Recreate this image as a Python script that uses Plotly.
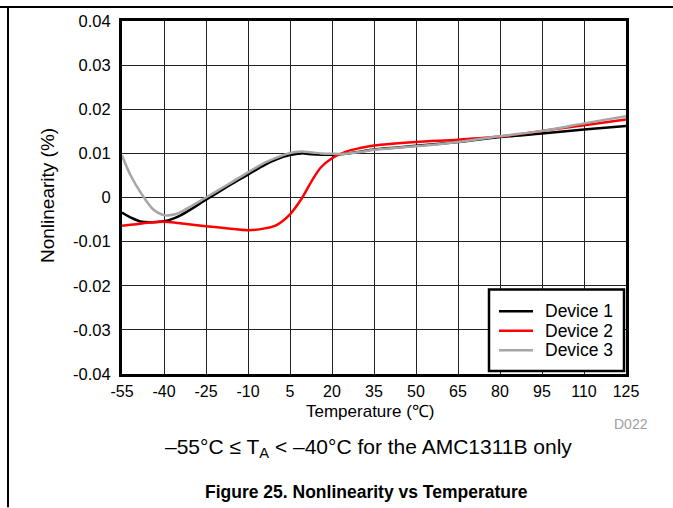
import plotly.graph_objects as go

temps = [-55, -52, -48, -44, -40, -36, -32, -25, -17, -10, -4, 0, 5, 9, 13, 16, 20, 25, 30, 35, 50, 65, 80, 95, 110, 125]
device1 = [-0.0034, -0.0045, -0.0055, -0.0056, -0.0054, -0.0046, -0.0033, -0.0005, 0.0026, 0.0052, 0.0074, 0.0086, 0.0096, 0.0100,
           0.0098, 0.0097, 0.0097, 0.0099, 0.0104, 0.0109, 0.0117, 0.0126, 0.0137, 0.0145, 0.0154, 0.0162]
device2 = [-0.0064, -0.0062, -0.0059, -0.0056, -0.0055, -0.0057, -0.0060, -0.0065, -0.0070, -0.0074, -0.0070, -0.0063, -0.0038, -0.0004,
           0.0040, 0.0068, 0.0089, 0.0104, 0.0112, 0.0118, 0.0126, 0.0131, 0.0138, 0.0151, 0.0164, 0.0177]
device3 = [0.0095, 0.0051, 0.0008, -0.0026, -0.0040, -0.0038, -0.0026, 0.0000, 0.0030, 0.0057, 0.0079, 0.0090, 0.0101, 0.0104,
           0.0102, 0.0100, 0.0099, 0.0099, 0.0103, 0.0108, 0.0116, 0.0126, 0.0139, 0.0151, 0.0168, 0.0184]

x_ticks = [-55, -40, -25, -10, 5, 20, 35, 50, 65, 80, 95, 110, 125]
y_ticks = [-0.04, -0.03, -0.02, -0.01, 0, 0.01, 0.02, 0.03, 0.04]
y_tick_labels = ["-0.04", "-0.03", "-0.02", "-0.01", "0", "0.01", "0.02", "0.03", "0.04"]

series = [("Device 1", device1, "#000000"), ("Device 2", device2, "#ff0000"), ("Device 3", device3, "#a6a6a6")]

FONT = "Liberation Sans, Arial, sans-serif"
W_PLOT, H_PLOT = 504.0, 355.0
L, B = 122, 134


def px(xp):
    return (xp - L) / W_PLOT


def py(yp):
    return (508 - B - yp) / H_PLOT


fig = go.Figure()
for name, vals, col in series:
    fig.add_trace(go.Scatter(x=temps, y=vals, name=name, mode="lines", showlegend=False,
                             line=dict(color=col, width=2.5, shape="spline", smoothing=0.8)))

fig.update_layout(
    width=673, height=508,
    margin=dict(l=L, r=47, t=19, b=B),
    paper_bgcolor="white", plot_bgcolor="white",
    font=dict(family=FONT, size=16, color="black"),
    showlegend=False,
)
fig.update_xaxes(range=[-55, 125], tickvals=x_ticks, ticktext=[str(v) for v in x_ticks],
                 showgrid=True, gridcolor="#222222", gridwidth=1,
                 showline=True, linecolor="black", linewidth=3, mirror=True,
                 ticks="", zeroline=False, tickfont=dict(size=16), ticklabelstandoff=1)
fig.update_yaxes(range=[-0.04, 0.04], tickvals=y_ticks, ticktext=y_tick_labels,
                 showgrid=True, gridcolor="#222222", gridwidth=1,
                 showline=True, linecolor="black", linewidth=3, mirror=True,
                 ticks="", zeroline=False, tickfont=dict(size=16.5), ticklabelstandoff=5)

# legend drawn manually
fig.add_shape(type="rect", xref="paper", yref="paper", x0=px(489), x1=px(624), y0=py(371), y1=py(289),
              line=dict(color="black", width=2.5), fillcolor="white", layer="above")
for i, (name, vals, col) in enumerate(series):
    yy = 311 + i * 19.5
    fig.add_shape(type="line", xref="paper", yref="paper", x0=px(499), x1=px(533), y0=py(yy), y1=py(yy),
                  line=dict(color=col, width=2.5), layer="above")
    fig.add_annotation(text=name, xref="paper", yref="paper", x=px(543), y=py(yy), showarrow=False,
                       xanchor="left", yanchor="middle", font=dict(size=17.5, family=FONT))

# annotations
fig.add_annotation(text="Temperature (℃)", xref="paper", yref="paper", x=px(370), y=py(412),
                   showarrow=False, font=dict(size=17, family=FONT), xanchor="center", yanchor="middle")
fig.add_annotation(text="Nonlinearity (%)", xref="paper", yref="paper", x=px(47), y=py(195),
                   showarrow=False, textangle=-90, font=dict(size=19, family=FONT), xanchor="center", yanchor="middle")
fig.add_annotation(text="D022", xref="paper", yref="paper", x=px(650), y=py(424),
                   showarrow=False, font=dict(size=14, family=FONT, color="#a0a0a0"), xanchor="right", yanchor="middle")
fig.add_annotation(text="–55°C ≤ T<sub>A</sub> < –40°C for the AMC1311B only", xref="paper", yref="paper",
                   x=px(368), y=py(448),
                   showarrow=False, font=dict(size=21, family=FONT), xanchor="center", yanchor="middle")
fig.add_annotation(text="<b>Figure 25. Nonlinearity vs Temperature</b>", xref="paper", yref="paper",
                   x=px(366), y=py(493),
                   showarrow=False, font=dict(size=17.5, family=FONT), xanchor="center", yanchor="middle")

# page rules
fig.add_shape(type="line", xref="paper", yref="paper", x0=px(0), x1=px(673),
              y0=py(5), y1=py(5), line=dict(color="black", width=2))
fig.add_shape(type="line", xref="paper", yref="paper", x0=px(8), x1=px(8),
              y0=py(5), y1=py(508), line=dict(color="black", width=2))

fig.write_html("out.html")
